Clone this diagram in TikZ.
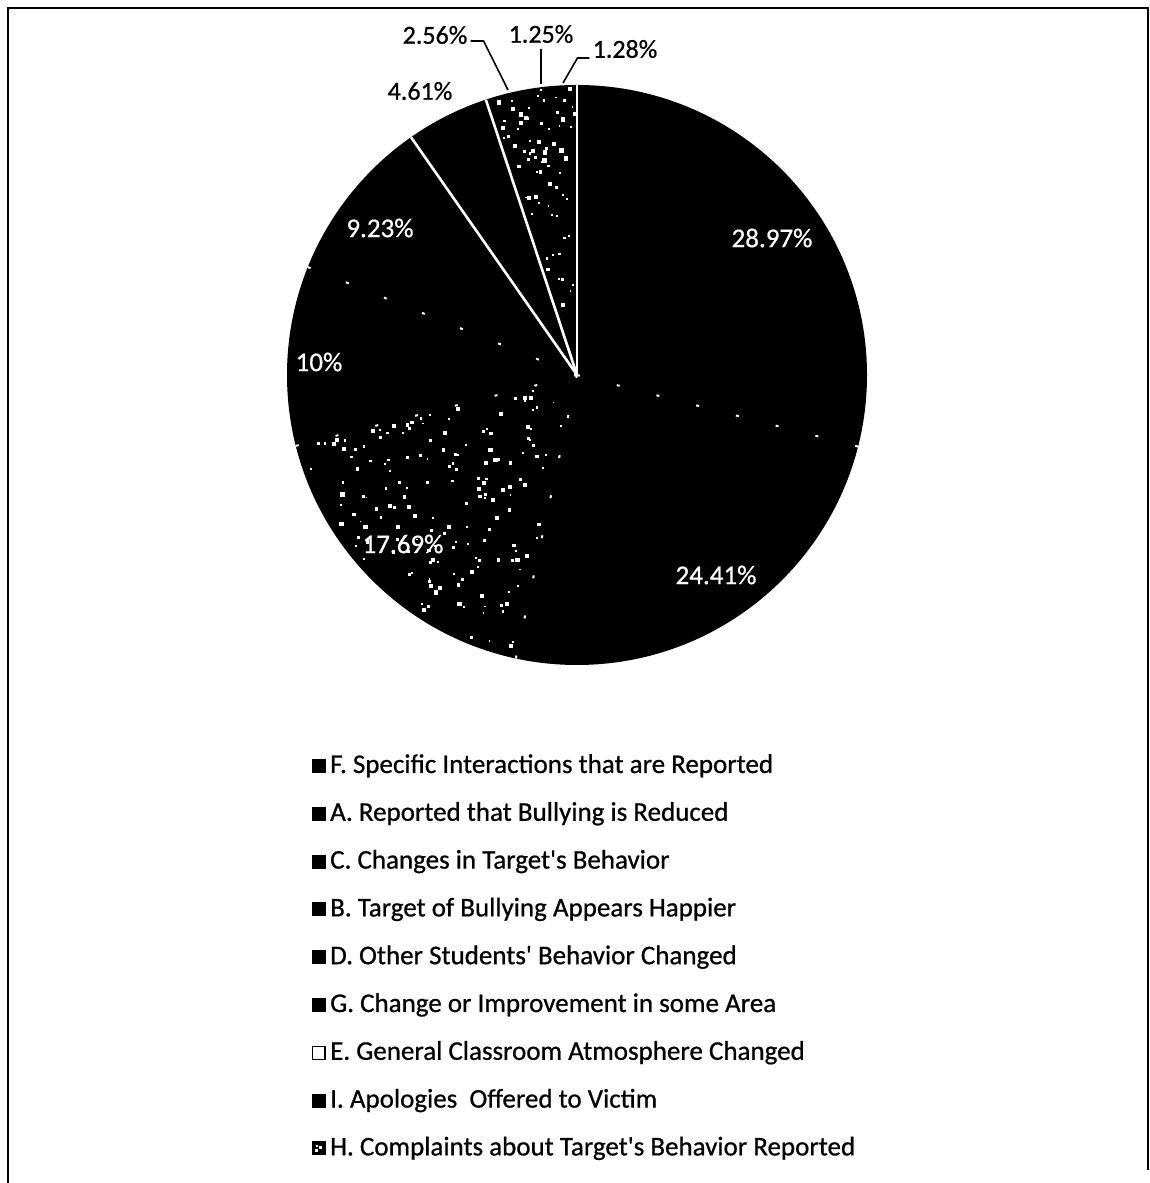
\documentclass[tikz,border=0pt]{standalone}
\usepackage{fontspec}
\setmainfont{Carlito}[FakeBold=0.7,Ligatures=TeXOff]
\usetikzlibrary{calc}
\begin{document}
\begin{tikzpicture}[x=1pt,y=1pt,
  frameline/.style={line width=2pt,black},
  sep/.style={white,line width=2.6pt},
  faintsep/.style={white,line width=2pt,dash pattern=on 3pt off 38pt},
  inlabel/.style={text=white,font=\fontsize{27}{30}\selectfont,inner sep=0pt},
  outlabel/.style={text=black,font=\fontsize{26}{29}\selectfont,inner sep=0pt},
  leader/.style={black,line width=1.6pt},
  legtext/.style={anchor=base west,font=\fontsize{27}{30}\selectfont,inner sep=0pt},
  legbox/.style={minimum size=13pt,inner sep=0pt,draw=black,line width=1pt,fill=black}]
\useasboundingbox (0,0) rectangle (1150,1183);
\fill[white] (0,0) rectangle (1150,1183);
% frame
\draw[frameline] (8,0) -- (8,1175) -- (1148,1175) -- (1148,13);
% pie
\coordinate (O) at (577,808);
\def\R{290}
\fill[black] (O) circle[radius=\R];
% speckles
\pgfmathsetseed{11}
\foreach \i in {1,...,170}{
  \pgfmathsetmacro{\a}{-165+62*rnd}
  \pgfmathsetmacro{\r}{35+250*sqrt(rnd)}
  \pgfmathsetmacro{\s}{1.5+3*rnd}
  \fill[white,shift={(O)}] (\a:\r) rectangle ++(\s,\s);
}
\foreach \i in {1,...,70}{
  \pgfmathsetmacro{\a}{90.5+17*rnd}
  \pgfmathsetmacro{\r}{60+228*sqrt(rnd)}
  \pgfmathsetmacro{\s}{1.5+3*rnd}
  \fill[white,shift={(O)}] (\a:\r) rectangle ++(\s,\s);
}
% slice separators
\coordinate (s1) at ($(O)+(90:\R)$);
\coordinate (s2) at ($(O)+(-14.29:\R)$);
\coordinate (s3) at ($(O)+(-102.17:\R)$);
\coordinate (s4) at ($(O)+(-165.85:\R)$);
\coordinate (s5) at ($(O)+(158.15:\R)$);
\coordinate (s6) at ($(O)+(124.92:\R)$);
\coordinate (s7) at ($(O)+(108.32:\R)$);
\draw[sep] (O) -- (s1);
\draw[sep] (O) -- (s6);
\draw[sep] (O) -- (s7);
\draw[faintsep] (O) -- (s2);
\draw[faintsep] (O) -- (s3);
\draw[faintsep] (O) -- (s4);
\draw[faintsep] (O) -- (s5);
% labels inside
\node[inlabel] (lF) at (772,945) {28.97\%};
\node[inlabel] (lA) at (716,608) {24.41\%};
\node[inlabel] (lC) at (403,639) {17.69\%};
\node[inlabel] (lB) at (319,821) {10\%};
\node[inlabel] (lD) at (380,955) {9.23\%};
% labels outside
\node[outlabel] (lG) at (420,1092) {4.61\%};
\node[outlabel] (lE) at (435,1148) {2.56\%};
\node[outlabel] (lI) at (541,1149) {1.25\%};
\node[outlabel] (lH) at (625,1134) {1.28\%};
\coordinate (pE) at (508,1093);
\coordinate (pI) at (541,1099);
\coordinate (pH) at (563,1100);
\draw[leader] (lE.east) ++(3,-6) -- ++(13,0) -- (pE);
\draw[leader] (lI.south) ++(0,-6) -- (pI);
\draw[leader] (lH.west) ++(-3,-9) -- ++(-12,0) -- (pH);
% legend
\foreach \k/\t [count=\i from 0] in {F/{F. Specific Interactions that are Reported},
  A/{A. Reported that Bullying is Reduced},
  C/{C. Changes in Target's Behavior},
  B/{B. Target of Bullying Appears Happier},
  D/{D. Other Students' Behavior Changed},
  G/{G. Change or Improvement in some Area},
  E/{E. General Classroom Atmosphere Changed},
  I/{I. Apologies\ \ Offered to Victim},
  H/{H. Complaints about Target's Behavior Reported}}{
  \pgfmathsetmacro{\yy}{410-47.8*\i}
  \node[legbox] (box\k) at (318.5,\yy+7) {};
  \node[legtext] (txt\k) at (330,\yy) {\t};
}
\fill[white] (boxE.south west) ++(1.2,1.2) rectangle ([shift={(-1.2,-1.2)}]boxE.north east);
\fill[white] ([shift={(3,3)}]boxH.south west) rectangle ++(3,3);
\fill[white] ([shift={(7,6)}]boxH.south west) rectangle ++(3,3);
\fill[white] ([shift={(4,8)}]boxH.south west) rectangle ++(2,2);
\end{tikzpicture}
\end{document}
